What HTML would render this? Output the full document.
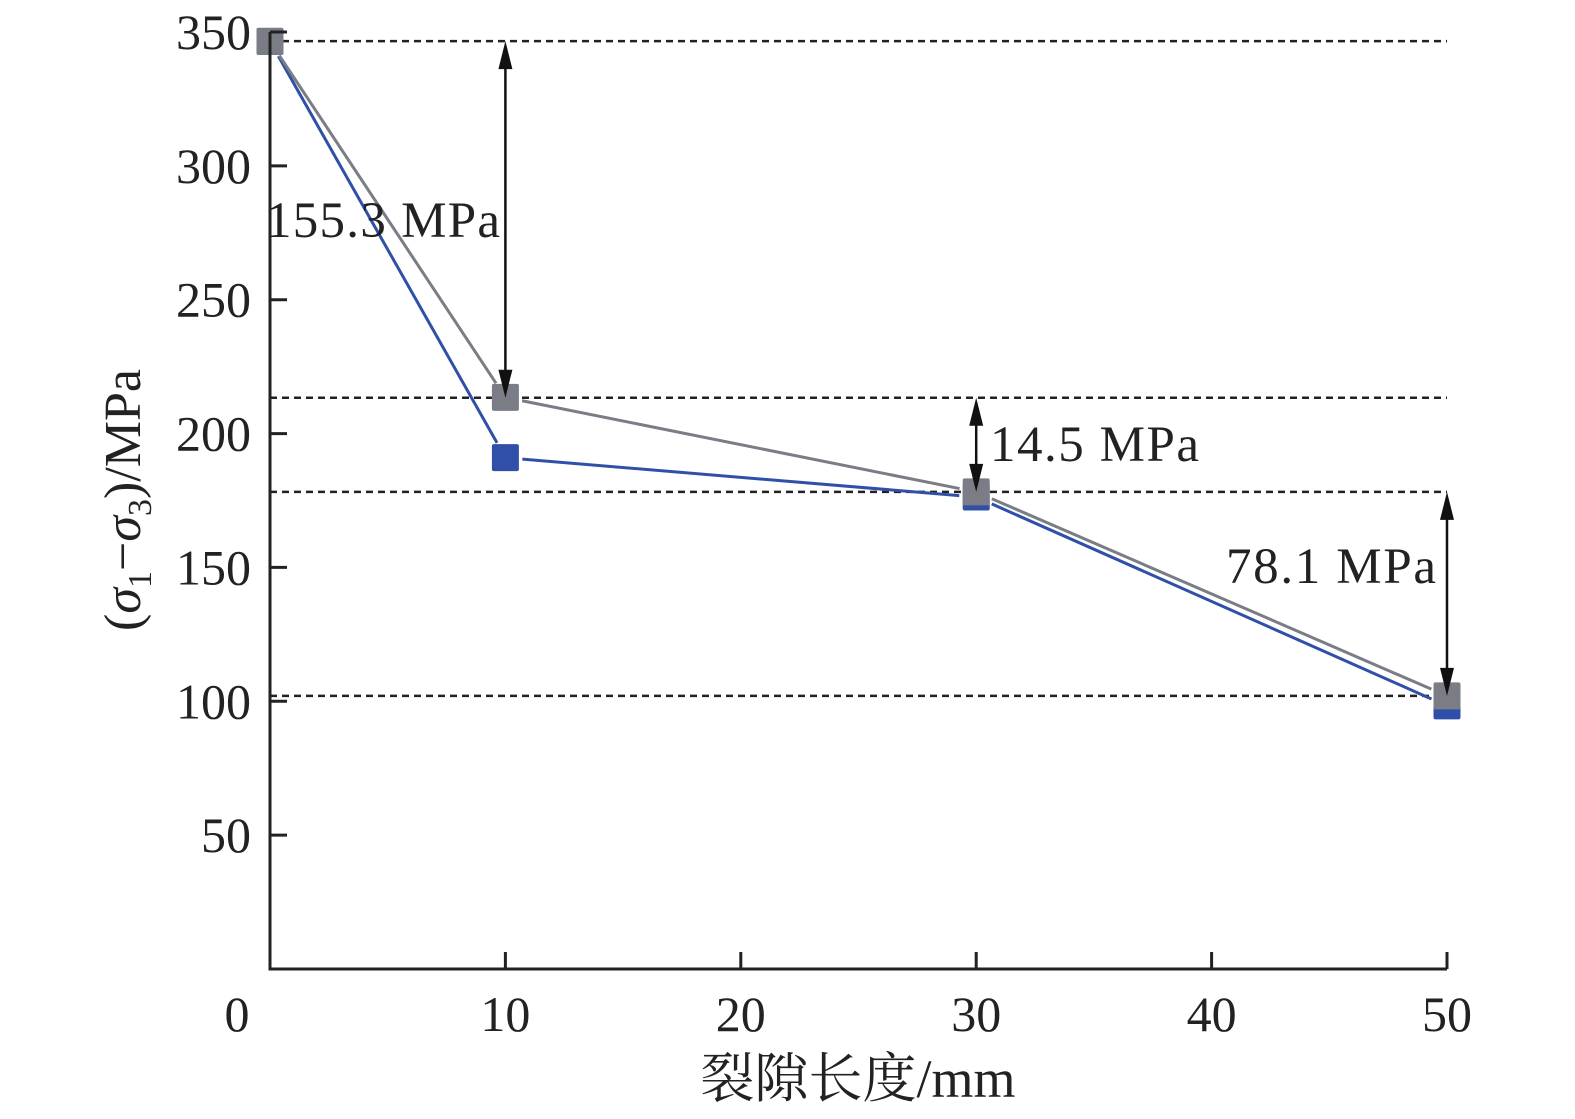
<!DOCTYPE html>
<html><head><meta charset="utf-8"><style>
html,body{margin:0;padding:0;background:#fff}
svg{display:block}
text{font-family:"Liberation Serif","Noto Serif CJK SC",serif;fill:#222}
</style></head><body>
<svg id="chart" width="1575" height="1119" viewBox="0 0 1575 1119" xmlns="http://www.w3.org/2000/svg">
<g id="grid"></g><g id="series"></g><g id="axes"></g><g id="ann"></g>
</svg>
<script>
const categories = [0, 10, 30, 50];
const grayValues = [346.5, 213.5, 178.2, 102];
const blueValues = [346.5, 191, 176.3, 98.3];
const xTicks = [0, 10, 20, 30, 40, 50];
const yTicks = [50, 100, 150, 200, 250, 300, 350];
const refLevels = [346.6, 213.4, 178.2, 102];
const diffLabels = ["155.3 MPa", "14.5 MPa", "78.1 MPa"];

const NS = "http://www.w3.org/2000/svg";
const x = v => 270 + v * (1447 - 270) / 50;
const y = v => 969 - v * (969 - 32) / 350;
function mk(tag, attrs, parent, txt) {
  const e = document.createElementNS(NS, tag);
  for (const k in attrs) e.setAttribute(k, attrs[k]);
  if (txt !== undefined) e.textContent = txt;
  document.getElementById(parent).appendChild(e);
  return e;
}
refLevels.forEach((v, i) => {
  const l = mk('line', {x1: x(0), x2: x(50), y1: y(v), y2: y(v), stroke: '#222', 'stroke-width': 2.5, 'stroke-dasharray': '7,5'}, 'grid');
  
  
});
function drawSeries(vals, color, name) {
  for (let i = 0; i < vals.length - 1; i++) {
    const x1 = x(categories[i]), y1 = y(vals[i]), x2 = x(categories[i + 1]), y2 = y(vals[i + 1]);
    const dx = x2 - x1, dy = y2 - y1, L = Math.hypot(dx, dy), g = 17;
    const s = mk('line', {x1: x1 + dx * g / L, y1: y1 + dy * g / L, x2: x2 - dx * g / L, y2: y2 - dy * g / L, stroke: color, 'stroke-width': 3}, 'series');
    
    
  }
  vals.forEach((v, i) => {
    const r = mk('rect', {x: x(categories[i]) - 13.5, y: y(v) - 13.5, width: 27, height: 27, rx: 2, fill: color}, 'series');
    
    
  });
}
drawSeries(blueValues, '#3050a8', 'blue-series');
drawSeries(grayValues, '#7a7d85', 'gray-series');
const ax = mk('path', {d: `M${x(0)},${y(0)-937} L${x(0)},${y(0)} L${x(50)},${y(0)}`, fill: 'none', stroke: '#222', 'stroke-width': 3}, 'axes');


yTicks.forEach(v => {
  const t = mk('line', {x1: x(0), x2: x(0) + 17, y1: y(v), y2: y(v), stroke: '#222', 'stroke-width': 3}, 'axes');
  
  
  const lb = mk('text', {x: 251, y: y(v) + 17, 'text-anchor': 'end', 'font-size': 50}, 'axes', String(v));
  
  
});
xTicks.forEach(v => {
  if (v > 0) {
    const t = mk('line', {x1: x(v), x2: x(v), y1: y(0), y2: y(0) - 17, stroke: '#222', 'stroke-width': 3}, 'axes');
    
    
  }
  const lb = mk('text', {x: v === 0 ? 237 : x(v), y: 1031, 'text-anchor': 'middle', 'font-size': 50}, 'axes', String(v));
  
  
});
const xt = mk('text', {x: 858, y: 1097, 'text-anchor': 'middle', 'font-size': 54}, 'axes', '裂隙长度/mm');


const yt = mk('text', {transform: 'translate(140,500) rotate(-90)', 'text-anchor': 'middle', 'font-size': 52}, 'axes');


yt.innerHTML = '(<tspan font-style="italic">σ</tspan><tspan font-size="34" dy="11">1</tspan><tspan dy="-11">−</tspan><tspan font-style="italic">σ</tspan><tspan font-size="34" dy="11">3</tspan><tspan dy="-11">)/MPa</tspan>';
function arrow(xv, v1, v2, name) {
  const X = x(xv), Y1 = y(v1), Y2 = y(v2);
  const a = mk('line', {x1: X, x2: X, y1: Y1 + 20, y2: Y2 - 20, stroke: '#111', 'stroke-width': 2.5}, 'ann');
  
  
  const h1 = mk('path', {d: `M${X},${Y1} L${X-7},${Y1+28} L${X+7},${Y1+28}Z`, fill: '#111'}, 'ann');
  
  
  const h2 = mk('path', {d: `M${X},${Y2} L${X-7},${Y2-28} L${X+7},${Y2-28}Z`, fill: '#111'}, 'ann');
  
  
}
arrow(10, refLevels[0], refLevels[1], 'arrow-155');
arrow(30, refLevels[1], refLevels[2], 'arrow-14');
arrow(50, refLevels[2], refLevels[3], 'arrow-78');
const l1 = mk('text', {x: 266, y: 237, 'font-size': 51, textLength: 234}, 'ann', diffLabels[0]);


const l2 = mk('text', {x: 990, y: 461, 'font-size': 51, textLength: 209}, 'ann', diffLabels[1]);


const l3 = mk('text', {x: 1226, y: 583, 'font-size': 51, textLength: 210}, 'ann', diffLabels[2]);


</script>
</body></html>
